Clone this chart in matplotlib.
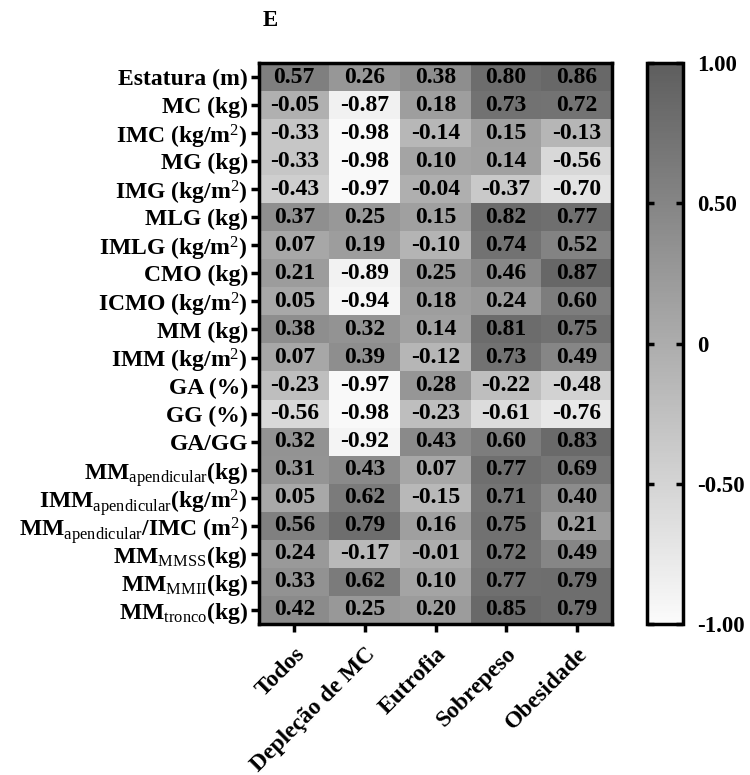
import matplotlib
matplotlib.use("Agg")
import matplotlib.pyplot as plt
import numpy as np
from matplotlib.colors import LinearSegmentedColormap

plt.rcParams['font.family'] = ['Liberation Serif', 'DejaVu Serif']
plt.rcParams['mathtext.fontset'] = 'custom'
plt.rcParams['mathtext.rm'] = 'Liberation Serif:normal'
plt.rcParams['mathtext.bf'] = 'Liberation Serif:bold'
plt.rcParams['mathtext.it'] = 'Liberation Serif:italic'

groups = ["Todos", "Depleção de MC", "Eutrofia", "Sobrepeso", "Obesidade"]

variables = [
    "Estatura (m)", "MC (kg)", r"IMC (kg/m$^{2}$)", "MG (kg)", r"IMG (kg/m$^{2}$)",
    "MLG (kg)", r"IMLG (kg/m$^{2}$)", "CMO (kg)", r"ICMO (kg/m$^{2}$)", "MM (kg)",
    r"IMM (kg/m$^{2}$)", "GA (%)", "GG (%)", "GA/GG",
    r"MM$_{\mathrm{apendicular}}$(kg)",
    r"IMM$_{\mathrm{apendicular}}$(kg/m$^{2}$)",
    r"MM$_{\mathrm{apendicular}}$/IMC (m$^{2}$)",
    r"MM$_{\mathrm{MMSS}}$(kg)",
    r"MM$_{\mathrm{MMII}}$(kg)",
    r"MM$_{\mathrm{tronco}}$(kg)",
]

todos = [0.57, -0.05, -0.33, -0.33, -0.43, 0.37, 0.07, 0.21, 0.05, 0.38,
         0.07, -0.23, -0.56, 0.32, 0.31, 0.05, 0.56, 0.24, 0.33, 0.42]
deplecao = [0.26, -0.87, -0.98, -0.98, -0.97, 0.25, 0.19, -0.89, -0.94, 0.32,
            0.39, -0.97, -0.98, -0.92, 0.43, 0.62, 0.79, -0.17, 0.62, 0.25]
eutrofia = [0.38, 0.18, -0.14, 0.10, -0.04, 0.15, -0.10, 0.25, 0.18, 0.14,
            -0.12, 0.28, -0.23, 0.43, 0.07, -0.15, 0.16, -0.01, 0.10, 0.20]
sobrepeso = [0.80, 0.73, 0.15, 0.14, -0.37, 0.82, 0.74, 0.46, 0.24, 0.81,
             0.73, -0.22, -0.61, 0.60, 0.77, 0.71, 0.75, 0.72, 0.77, 0.85]
obesidade = [0.86, 0.72, -0.13, -0.56, -0.70, 0.77, 0.52, 0.87, 0.60, 0.75,
             0.49, -0.48, -0.76, 0.83, 0.69, 0.40, 0.21, 0.49, 0.79, 0.79]

cbar_ticks = [-1.0, -0.5, 0.0, 0.5, 1.0]
cbar_labels = ["-1.00", "-0.50", "0", "0.50", "1.00"]

data = np.array([todos, deplecao, eutrofia, sobrepeso, obesidade]).T

cmap = LinearSegmentedColormap.from_list("g", ["#fbfbfb", "#5e5e5e"])

fig = plt.figure(figsize=(7.5, 7.75), dpi=100)
W, H = 750, 775
ax = fig.add_axes([259 / W, 1 - 624 / H, (612 - 259) / W, (624 - 63) / H])
cax = fig.add_axes([647 / W, 1 - 624 / H, (683 - 647) / W, (624 - 63) / H])

nrows, ncols = data.shape
im = ax.imshow(data, cmap=cmap, vmin=-1, vmax=1, aspect='auto',
               extent=(-0.5, ncols - 0.5, nrows - 0.5, -0.5))
for i in range(nrows):
    for j in range(ncols):
        ax.text(j, i, f"{data[i, j]:.2f}", ha='center', va='center',
                fontsize=17, fontweight='bold', color='black')

ax.set_xticks(range(ncols))
ax.set_xticklabels(groups, rotation=45, ha='right', rotation_mode='anchor',
                   fontsize=17, fontweight='bold')
ax.set_yticks(range(nrows))
ax.set_yticklabels(variables, fontsize=17, fontweight='bold')
ax.tick_params(axis='both', length=6, width=2.5, direction='out')
ax.tick_params(axis='x', pad=8)
ax.tick_params(axis='y', pad=2)
for s in ax.spines.values():
    s.set_linewidth(2.5)

cb = fig.colorbar(im, cax=cax, ticks=cbar_ticks)
cb.set_ticklabels(cbar_labels)
cb.outline.set_linewidth(2.5)
cax.tick_params(axis='y', length=5, width=2.5, direction='in', left=True,
                right=True, labelsize=16.5, pad=10)
for lab in cax.get_yticklabels():
    lab.set_fontweight('bold')

fig.text(263 / W, 1 - 20 / H, "E", fontsize=16.5, fontweight='bold',
         ha='left', va='center')

fig.savefig("out.png", dpi=100)
